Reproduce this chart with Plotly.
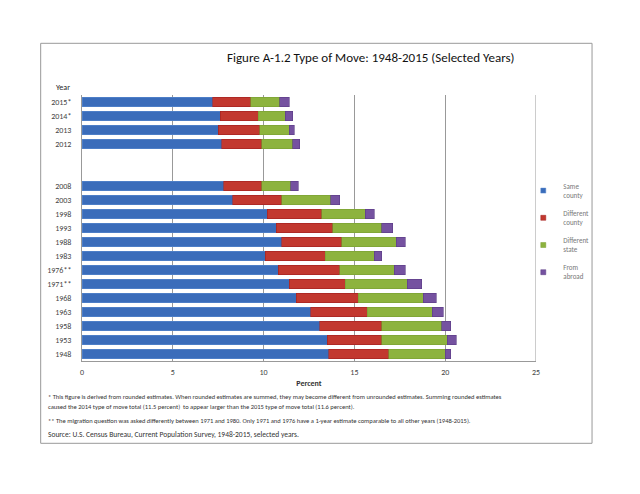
import plotly.graph_objects as go

# ---- data ----
years = ["2015*", "2014*", "2013", "2012", "2008", "2003", "1998", "1993", "1988",
         "1983", "1976**", "1971**", "1968", "1963", "1958", "1953", "1948"]
same_county = [7.2, 7.6, 7.5, 7.7, 7.8, 8.3, 10.2, 10.7, 11.0, 10.1, 10.8, 11.4, 11.8, 12.6, 13.1, 13.5, 13.6]
diff_county = [2.1, 2.1, 2.3, 2.2, 2.1, 2.7, 3.0, 3.1, 3.3, 3.3, 3.4, 3.1, 3.4, 3.1, 3.4, 3.0, 3.3]
diff_state = [1.6, 1.5, 1.6, 1.7, 1.6, 2.7, 2.4, 2.7, 3.0, 2.7, 3.0, 3.4, 3.6, 3.6, 3.3, 3.6, 3.1]
from_abroad = [0.5, 0.4, 0.3, 0.4, 0.4, 0.5, 0.5, 0.6, 0.5, 0.4, 0.6, 0.8, 0.7, 0.6, 0.5, 0.5, 0.3]
series_names = ["Same<br>county", "Different<br>county", "Different<br>state", "From<br>abroad"]
x_ticks = [0, 5, 10, 15, 20, 25]
# category order including the two empty slots between 2012 and 2008
category_order = years[:4] + [" ", "  "] + years[4:]

colors = ["#3A6CBA", "#C2382F", "#8DB33E", "#7552A0"]
edge_colors = ["#5A8AD0", "#A02020", "#7A9E33", "#5A3C85"]

FONT = "Carlito, Calibri, 'Liberation Sans Narrow', 'Open Sans', sans-serif"

OFF = 8  # page body margin
W, H = 640, 494
L, R, T, B = 82 - OFF, 535.7 - OFF, 95 - OFF, 361 - OFF


def px(x):
    return (x - OFF - L) / (R - L)


def py(y):
    return (B - (y - OFF)) / (B - T)


fig = go.Figure()
for name, vals, c, ec in zip(series_names, [same_county, diff_county, diff_state, from_abroad], colors, edge_colors):
    fig.add_trace(go.Bar(
        y=years, x=vals, name=name, orientation="h",
        marker=dict(color=c, line=dict(color=ec, width=0.6)),
        showlegend=False,
    ))
# legend entries with small square swatches
for name, c, ec in zip(series_names, colors, edge_colors):
    fig.add_trace(go.Scatter(
        x=[None], y=[None], mode="markers", name=name, legendgroup=name,
        marker=dict(symbol="square", size=5, color=c, line=dict(color=ec, width=0.5)),
    ))

fig.update_layout(
    width=W, height=H,
    margin=dict(l=L, r=W - R, t=T, b=H - B, pad=0),
    paper_bgcolor="white", plot_bgcolor="white",
    barmode="stack", bargap=0.32,
    font=dict(family=FONT, size=8, color="#444"),
    showlegend=True,
    legend=dict(x=px(523), y=py(175), xanchor="left", yanchor="top",
                font=dict(size=7, color="#777"), tracegroupgap=6,
                itemwidth=30, itemsizing="trace", bgcolor="rgba(0,0,0,0)"),
    xaxis=dict(range=[0, 25], tickvals=x_ticks, showgrid=True, gridcolor="#999", gridwidth=1,
               zeroline=False, showline=True, linecolor="#999", linewidth=1, mirror=False,
               ticks="", tickfont=dict(size=8, color="#444"), ticklabelstandoff=3,
               title=dict(text="<b>Percent</b>", font=dict(size=8, color="#333"), standoff=4)),
    yaxis=dict(type="category", categoryorder="array", categoryarray=category_order,
               autorange="reversed", showgrid=False, showline=True, linecolor="#999", linewidth=1,
               ticks="", tickfont=dict(size=8, color="#444"), ticklabelstandoff=8),
)

# right edge line of plot area
fig.add_shape(type="line", xref="x", yref="paper", x0=25, x1=25, y0=0, y1=1,
              line=dict(color="#999", width=1))

# outer frame
fig.add_shape(type="rect", xref="paper", yref="paper",
              x0=px(40.7), x1=px(591.7), y0=py(443.3), y1=py(43.3),
              line=dict(color="#999", width=1), fillcolor="rgba(0,0,0,0)", layer="below")

# title
fig.add_annotation(text="Figure A-1.2 Type of Move: 1948-2015 (Selected Years)",
                   xref="paper", yref="paper", x=px(371), y=py(58), xanchor="center", yanchor="middle",
                   showarrow=False, font=dict(family=FONT, size=13, color="#111"))
# Year label
fig.add_annotation(text="Year", xref="paper", yref="paper", x=px(72), y=py(87),
                   xanchor="right", yanchor="middle", showarrow=False,
                   font=dict(size=8, color="#222"))

notes = [
    ("* This figure is derived from rounded estimates. When rounded estimates are summed, they may become different from unrounded estimates. Summing rounded estimates", 397),
    ("caused the 2014 type of move total (11.5 percent)  to appear larger than the 2015 type of move total (11.6 percent).", 407),
    ("** The migration question was asked differently between 1971 and 1980. Only 1971 and 1976 have a 1-year estimate comparable to all other years (1948-2015).", 421),
]
for txt, yy in notes:
    fig.add_annotation(text=txt, xref="paper", yref="paper", x=px(46), y=py(yy),
                       xanchor="left", yanchor="middle", showarrow=False,
                       font=dict(size=6.5, color="#333"))
fig.add_annotation(text="Source: U.S. Census Bureau, Current Population Survey, 1948-2015, selected years.",
                   xref="paper", yref="paper", x=px(46), y=py(434), xanchor="left", yanchor="middle",
                   showarrow=False, font=dict(size=7.5, color="#333"))

fig.write_html("out.html")
